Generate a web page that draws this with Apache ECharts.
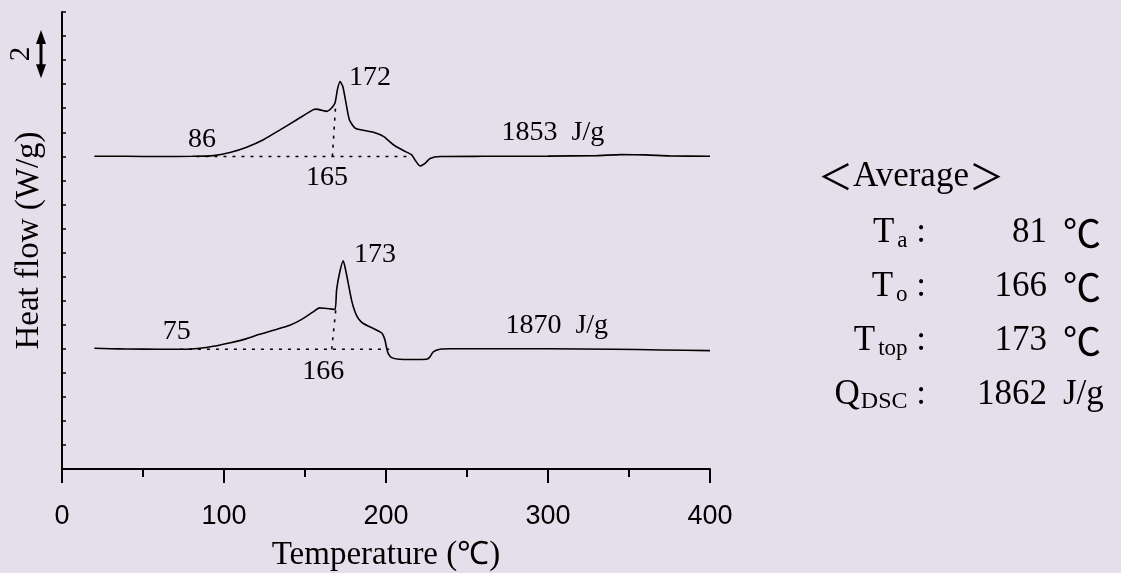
<!DOCTYPE html>
<html><head><meta charset="utf-8">
<script src="https://cdn.jsdelivr.net/npm/echarts@6/dist/echarts.min.js"></script>
<style>html,body{margin:0;padding:0;background:#e4dfeb;}#c{width:1121px;height:573px;}</style>
</head><body><div id="c"></div>
<script>
// ---- data ----
const upperT = [20, 40, 60, 80, 93.4, 103.7, 114, 124.3, 134.6, 144.9, 155.2, 157.2, 160, 163.4, 166, 168.5, 170, 171.6, 173.3, 175.3, 177.4, 180.9, 186, 192.2, 198.4, 204.6, 210.7, 215.9, 217.9, 221, 224.1, 227.2, 233.4, 260, 300, 330, 345, 360, 375, 400];
const upperV = [13.0, 13.0, 12.99, 13.0, 13.03, 13.16, 13.38, 13.69, 14.1, 14.52, 14.94, 14.96, 14.92, 14.87, 14.98, 15.22, 15.77, 16.11, 15.91, 15.22, 14.52, 14.17, 14.08, 14.0, 13.83, 13.48, 13.24, 13.06, 12.85, 12.6, 12.71, 12.91, 12.99, 13.0, 13.01, 13.03, 13.07, 13.06, 13.02, 13.0];
const lowerT = [20, 30, 40, 60, 75, 85, 93.4, 104, 114, 122, 130.5, 140.7, 148, 155, 159, 162, 165, 168.5, 169.5, 171.5, 173.6, 175, 176.7, 178.8, 180.9, 183, 186, 192.2, 196.3, 198, 199.4, 200.5, 201.4, 203.5, 208, 217, 225, 227, 229.2, 233.3, 240, 260, 300, 340, 370, 400];
const lowerV = [5.02, 5.0, 4.99, 4.98, 4.98, 5.02, 5.1, 5.25, 5.42, 5.6, 5.77, 5.98, 6.22, 6.53, 6.7, 6.68, 6.66, 6.63, 7.44, 8.2, 8.66, 8.3, 7.72, 7.0, 6.53, 6.25, 6.05, 5.84, 5.7, 5.6, 5.35, 5.0, 4.8, 4.63, 4.56, 4.55, 4.56, 4.65, 4.87, 4.98, 5.0, 5.0, 5.0, 4.98, 4.95, 4.92];
// dotted construction lines: [T1, V1, T2, V2]
const upperBaseline = [83, 12.99, 216, 12.99];
const upperOnset = [166.9, 12.99, 169, 15.22];
const lowerBaseline = [72.8, 4.98, 202, 4.98];
const lowerOnset = [166.5, 4.98, 169, 6.63];
// annotations on the plot
const annotT = [86.4, 163.6, 190.1, 303, 70.8, 161.3, 193.2, 305.4];
const annotV = [13.69, 12.1, 16.27, 13.98, 5.70, 4.04, 8.90, 5.98];
const annotText = ['86', '165', '172', '1853  J/g', '75', '166', '173', '1870  J/g'];
// scale bar (2 W/g)
const scaleBar = [16.25, 18.25];
const scaleText = '2';
// average panel
const avgTitle = '{k|＜}Average{k|＞}';
const avgLabels = ['T{s|a} :', 'T{s|o} :', 'T{s|top} :', 'Q{d|DSC} :'];
const avgValues = ['81', '166', '173', '1862'];
const avgUnits = ['{k|℃}', '{k|℃}', '{k|℃}', 'J/g'];
const xTicks = [0, 100, 200, 300, 400];

const serif = '"Liberation Serif", "DejaVu Serif", serif';
const sans = '"Liberation Sans Narrow", "Liberation Sans", Arial, sans-serif';
const cjk = '"Noto Sans CJK JP", "Liberation Serif", serif';
const pair = a => [[a[0], a[1]], [a[2], a[3]]];
const dotted = (a) => ({
  type: 'line', data: pair(a), showSymbol: false, silent: true,
  lineStyle: {color: '#000', width: 1.6, type: [3, 6]}
});

const chart = echarts.init(document.getElementById('c'), null, {renderer: 'canvas'});
chart.setOption({
  animation: false,
  backgroundColor: '#e4dfeb',
  grid: {left: 62, right: 411, top: 12, bottom: 104, containLabel: false, outerBoundsMode: 'none'},
  xAxis: {
    type: 'value', min: 0, max: 400, interval: 100,
    name: '{a|Temperature (}{b|℃}{a|)}', nameLocation: 'middle', nameGap: 70,
    nameTextStyle: {
      rich: {
        a: {fontFamily: serif, fontSize: 33, color: '#000'},
        b: {fontFamily: sans, fontSize: 32, color: '#000'}
      },
      fontFamily: serif, fontSize: 33, color: '#000'
    },
    axisLine: {lineStyle: {color: '#000', width: 2}},
    axisTick: {inside: false, length: 14, lineStyle: {color: '#000', width: 2}},
    minorTick: {show: true, splitNumber: 2, length: 8, lineStyle: {color: '#000', width: 2}},
    splitLine: {show: false},
    axisLabel: {
      margin: 34, color: '#000', fontFamily: sans, fontSize: 27,
      formatter: v => (xTicks.indexOf(v) >= 0 ? String(v) : '')
    }
  },
  yAxis: {
    type: 'value', min: 0, max: 19, interval: 1,
    name: 'Heat flow (W/g)', nameLocation: 'middle', nameGap: 16,
    nameTextStyle: {fontFamily: serif, fontSize: 33, color: '#000'},
    axisLine: {show: true, lineStyle: {color: '#000', width: 2}},
    axisTick: {show: true, inside: true, length: 4, lineStyle: {color: '#000', width: 1.5}},
    axisLabel: {show: false},
    splitLine: {show: false}
  },
  series: [
    {type: 'line', data: upperT.map((t, i) => [t, upperV[i]]), showSymbol: false, smooth: 0.2,
     lineStyle: {color: '#000', width: 1.6}},
    {type: 'line', data: lowerT.map((t, i) => [t, lowerV[i]]), showSymbol: false, smooth: 0.2,
     lineStyle: {color: '#000', width: 1.6}},
    dotted(upperBaseline), dotted(upperOnset), dotted(lowerBaseline), dotted(lowerOnset),
    {type: 'scatter', symbolSize: 1, itemStyle: {color: 'rgba(0,0,0,0)', opacity: 1}, silent: true,
     data: annotT.map((t, i) => [t, annotV[i]]),
     label: {show: true, position: 'inside', color: '#000', opacity: 1, fontFamily: serif, fontSize: 28,
             formatter: p => annotText[p.dataIndex]}}
  ]
});

// graphics: scale bar and average panel
const yTop = chart.convertToPixel({gridIndex: 0}, [0, scaleBar[1]])[1];
const yBot = chart.convertToPixel({gridIndex: 0}, [0, scaleBar[0]])[1];
const ax = 41;
const FS = 35;
const g = [
  {type: 'line', shape: {x1: ax, y1: yTop + 8, x2: ax, y2: yBot - 8}, style: {stroke: '#000', lineWidth: 3}},
  {type: 'polygon', shape: {points: [[ax, yTop], [ax - 5, yTop + 14], [ax + 5, yTop + 14]]}, style: {fill: '#000'}},
  {type: 'polygon', shape: {points: [[ax, yBot], [ax - 5, yBot - 14], [ax + 5, yBot - 14]]}, style: {fill: '#000'}},
  {type: 'text', x: 21, y: (yTop + yBot) / 2, rotation: Math.PI / 2,
   style: {text: scaleText, fontFamily: serif, fontSize: 29, fill: '#000', align: 'center', verticalAlign: 'middle'}},
  {type: 'text', x: 818, y: 177,
   style: {text: avgTitle, fontFamily: serif, fontSize: FS, fill: '#000', align: 'left', verticalAlign: 'middle',
     rich: {k: {fontFamily: cjk, fontSize: FS, fill: '#000'}}}}
];
const rowY = [233, 287, 341, 395];
rowY.forEach((y, i) => {
  g.push({type: 'text', x: 926, y: y, style: {
    text: avgLabels[i], fontFamily: serif, fontSize: FS, fill: '#000', align: 'right', verticalAlign: 'middle', lineHeight: 38,
    rich: {
      s: {fontFamily: serif, fontSize: 23, lineHeight: 25, verticalAlign: 'bottom', fill: '#000', padding: [0, 0, 0, 3]},
      d: {fontFamily: serif, fontSize: 24, lineHeight: 28, verticalAlign: 'bottom', fill: '#000', padding: [0, 0, 0, 1]}
    }}});
  g.push({type: 'text', x: 1047, y: y, style: {
    text: avgValues[i], fontFamily: serif, fontSize: FS, fill: '#000', align: 'right', verticalAlign: 'middle'}});
  g.push({type: 'text', x: 1063, y: y, style: {
    text: avgUnits[i], fontFamily: serif, fontSize: FS, fill: '#000', align: 'left', verticalAlign: 'middle',
    rich: {k: {fontFamily: cjk, fontSize: 38, fill: '#000'}}}});
});
chart.setOption({graphic: g});
</script>
</body></html>
